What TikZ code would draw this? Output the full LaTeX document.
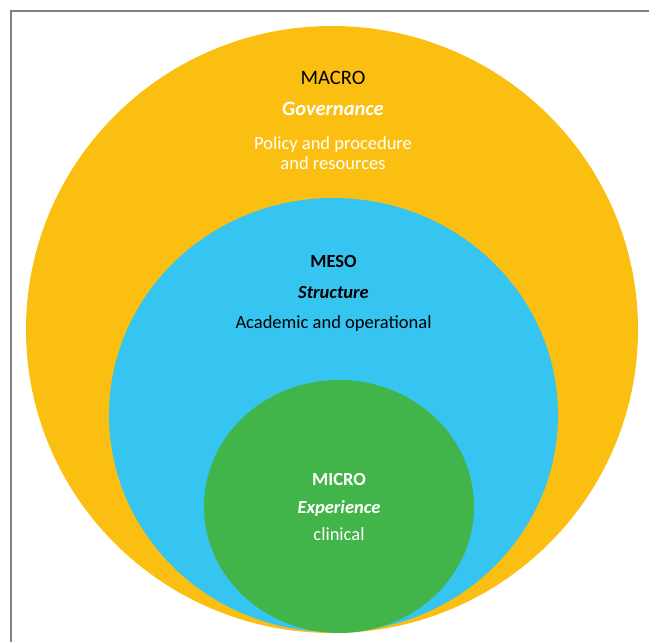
\documentclass[tikz,border=0pt]{standalone}
\usepackage{fontspec}
\setmainfont{Carlito}
\usetikzlibrary{shapes.geometric}
\definecolor{macroY}{HTML}{FBBF12}
\definecolor{mesoB}{HTML}{36C5F0}
\definecolor{microG}{HTML}{42B54A}
\definecolor{frameG}{HTML}{808080}
\tikzset{
  lvl/.style={ellipse, draw=none, inner sep=0pt},
  lbl/.style={anchor=base, inner sep=0pt, font=\fontsize{18.5}{20}\selectfont},
  big/.style={anchor=base, inner sep=0pt, font=\fontsize{20.5}{22}\selectfont},
}
\begin{document}
\begin{tikzpicture}[x=1pt,y=-1pt]
\useasboundingbox (0,0) rectangle (649,642);
\draw[frameG, line width=1.3pt] (11,642) -- (11,11) -- (649,11);
\node[lvl, fill=macroY, minimum width=612pt, minimum height=607pt] (macro) at (332,329.5) {};
\node[lvl, fill=mesoB, minimum width=449pt, minimum height=434pt] (meso) at (333.5,415) {};
\node[lvl, fill=microG, minimum width=270pt, minimum height=253pt] (micro) at (339,506.5) {};
% MACRO
\node[big, text=black] (t1) at (333,85) {MACRO};
\node[big, text=white, font=\fontsize{20.5}{22}\selectfont\bfseries\itshape] (t2) at (333,116) {Governance};
\node[lbl, text=white] (t3) at (333,149.5) {Policy and procedure};
\node[lbl, text=white] (t4) at (333,170) {and resources};
% MESO
\node[lbl, text=black, font=\fontsize{18.5}{20}\selectfont\bfseries] (t5) at (333.5,267) {MESO};
\node[lbl, text=black, font=\fontsize{18.5}{20}\selectfont\bfseries\itshape] (t6) at (333.5,298) {Structure};
\node[lbl, text=black] (t7) at (333.5,328) {Academic and operational};
% MICRO
\node[lbl, text=white, font=\fontsize{18.5}{20}\selectfont\bfseries] (t8) at (339,485) {MICRO};
\node[lbl, text=white, font=\fontsize{18.5}{20}\selectfont\bfseries\itshape] (t9) at (339,513) {Experience};
\node[lbl, text=white] (t10) at (339,540) {clinical};
\end{tikzpicture}
\end{document}
